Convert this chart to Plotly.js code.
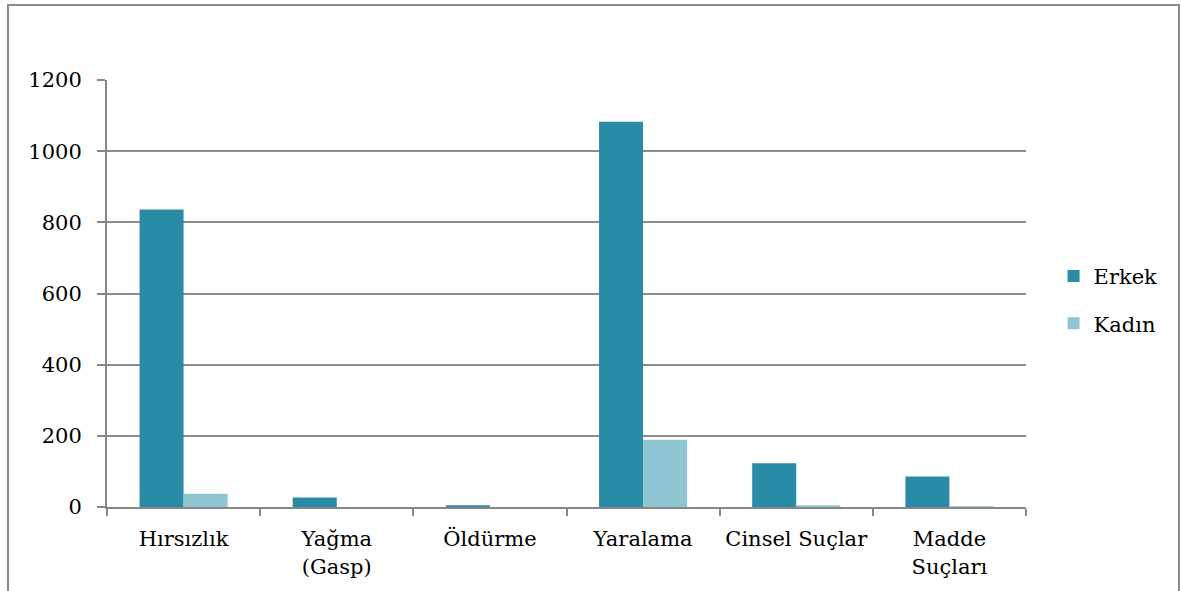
<!DOCTYPE html>
<html>
<head>
<meta charset="utf-8">
<script src="https://cdn.plot.ly/plotly-3.0.1.min.js"></script>
<style>
  html, body { margin: 0; padding: 0; background: #fff; }
  #wrap { position: relative; width: 1181px; height: 591px; overflow: hidden; }
  #chart { width: 1181px; height: 591px; }
  #frame { position: absolute; left: 7px; top: 4px; width: 1173px; height: 620px;
           border: 2px solid #8a8a8a; box-sizing: border-box; pointer-events: none; }
</style>
</head>
<body>
<div id="wrap">
  <div id="chart"></div>
  <div id="frame"></div>
</div>
<script>
const categories = ["Hırsızlık", "Yağma<br>(Gasp)", "Öldürme", "Yaralama", "Cinsel Suçlar", "Madde<br>Suçları"];
const erkek = [836, 27, 5, 1083, 123, 86];
const kadin = [37, 0, 0, 189, 5, 2];
const yTicks = [0, 200, 400, 600, 800, 1000, 1200];

const serif = "DejaVu Serif, serif";

const traces = [
  {
    type: "bar", name: "Erkek", x: categories, y: erkek,
    legendgroup: "e",
    marker: { color: "#2a8ba6", line: { width: 0 } }
  },
  {
    type: "bar", name: "Kadın", x: categories, y: kadin,
    legendgroup: "k",
    marker: { color: "#8fc4d2", line: { width: 0 } }
  }
];

const layout = {
  width: 1181, height: 591,
  margin: { l: 107, r: 155, t: 80, b: 84 },
  paper_bgcolor: "#ffffff",
  plot_bgcolor: "#ffffff",
  barmode: "group",
  bargap: 0.425,
  bargroupgap: 0,
  font: { family: serif, size: 21, color: "#000" },
  showlegend: true,
  legend: {
    x: 1.03, xanchor: "left", y: 0.485, yanchor: "middle",
    traceorder: "grouped", tracegroupgap: 17,
    font: { family: serif, size: 21, color: "#000" },
    itemwidth: 30
  },
  xaxis: {
    type: "category",
    showgrid: false,
    showline: true, linecolor: "#868686", linewidth: 2,
    ticks: "outside", tickson: "boundaries", ticklen: 7, tickcolor: "#868686", tickwidth: 2,
    ticklabelstandoff: 12,
    tickfont: { family: serif, size: 21, color: "#000" },
    fixedrange: true
  },
  yaxis: {
    range: [0, 1200],
    tickvals: yTicks,
    ticktext: yTicks.map(String),
    showgrid: true, gridcolor: "#8c8c8c", gridwidth: 2,
    showline: true, linecolor: "#868686", linewidth: 2,
    zeroline: false,
    ticks: "outside", ticklen: 8, tickcolor: "#868686", tickwidth: 2,
    ticklabelstandoff: 11,
    tickfont: { family: serif, size: 21, color: "#000" },
    fixedrange: true
  }
};

Plotly.newPlot("chart", traces, layout, { displayModeBar: false, staticPlot: true });
</script>
</body>
</html>
